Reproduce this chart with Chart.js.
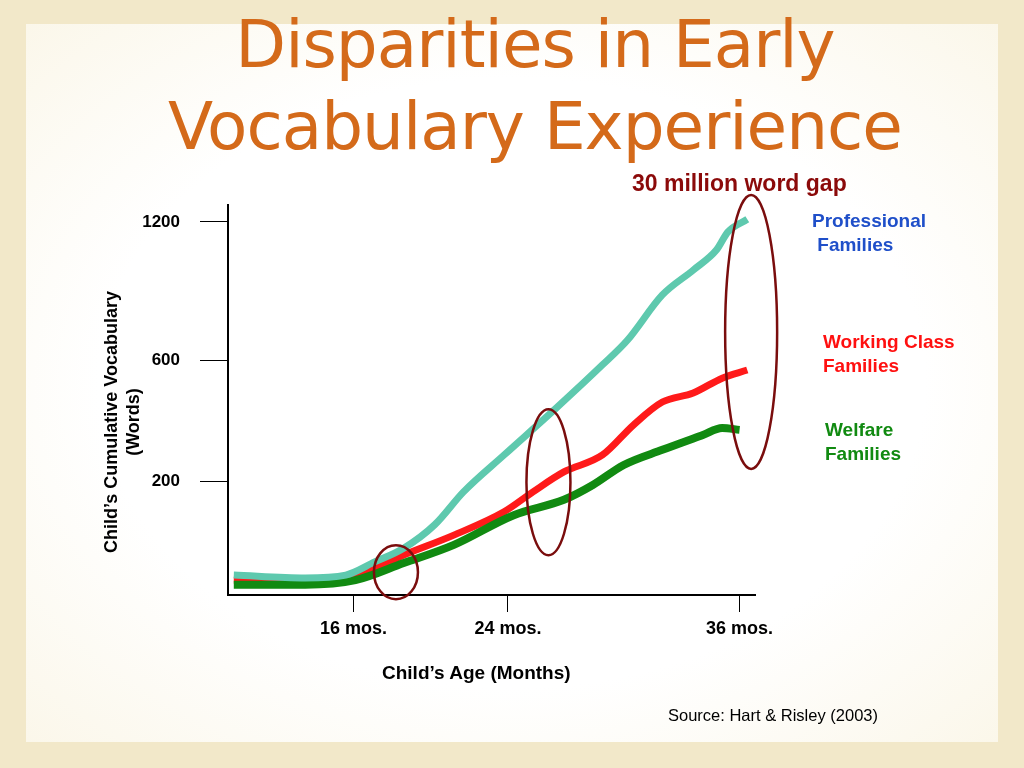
<!DOCTYPE html>
<html><head><meta charset="utf-8">
<script src="https://cdn.jsdelivr.net/npm/chart.js@4"></script>
<style>
body{margin:0;width:1024px;height:768px;background:#f2e8c9;position:relative;overflow:hidden;font-family:"Liberation Sans",Arial,sans-serif}
#panel{position:absolute;left:26px;top:24px;width:972px;height:718px;background:radial-gradient(ellipse at center,#ffffff 60%,#fbf7ea 100%)}
#c{position:absolute;left:0;top:0}
.t{position:absolute;white-space:nowrap}
h1{position:absolute;left:0;width:1070px;top:4px;margin:0;text-align:center;font-family:"DejaVu Sans",sans-serif;font-weight:normal;font-size:66px;line-height:82px;color:#d46a1a;letter-spacing:-1px}
</style></head><body>
<div id="panel"></div>
<h1>Disparities in Early<br>Vocabulary Experience</h1>
<canvas id="c" width="1024" height="768"></canvas>
<div class="t" style="left:632px;top:170px;font-size:23px;font-weight:bold;color:#8b0a0a">30 million word gap</div>
<div class="t" style="left:812px;top:209px;font-size:19px;font-weight:bold;color:#1f4fc9;line-height:24px">Professional<br>&nbsp;Families</div>
<div class="t" style="left:823px;top:330px;font-size:19px;font-weight:bold;color:#ff1010;line-height:24px">Working Class<br>Families</div>
<div class="t" style="left:825px;top:418px;font-size:19px;font-weight:bold;color:#118a11;line-height:24px">Welfare<br>Families</div>
<div class="t" style="left:122px;top:400px;width:320px;margin-left:-160px;text-align:center;transform:rotate(-90deg);font-size:18px;font-weight:bold;line-height:22px">Child’s Cumulative Vocabulary<br>(Words)</div>
<div class="t" style="left:382px;top:662px;font-size:19px;font-weight:bold">Child’s Age (Months)</div>
<div class="t" style="left:668px;top:706px;font-size:16.5px">Source: Hart &amp; Risley (2003)</div>
<script>
// vocabulary (words) by age (months)
const profMonths = [9.8,13.5,15.6,17.1,18.6,20.2,21.7,23.8,26.4,28.9,30.2,32.0,33.6,34.8,35.4,36.4];
const profWords  = [35,30,35,58,82,123,181,286,435,584,687,883,991,1078,1157,1209];
const workMonths = [9.8,13.5,16.1,18.6,21.2,23.8,25.3,26.9,28.9,30.5,32.0,33.6,35.1,36.4];
const workWords  = [26,26,33,70,105,146,181,230,286,385,461,491,540,567];
const welfMonths = [9.8,13.5,16.1,18.6,21.2,24.3,26.9,28.4,30.0,32.0,34.1,35.1,36.0];
const welfWords  = [18,18,26,56,88,140,167,193,253,303,352,375,369];
const xTicks = [16,24,36];
const xTickLabels = ['16 mos.','24 mos.','36 mos.'];
const yTicks = [200,600,1200];

// the slide's vertical axis is not linear: piecewise between its tick words
const knotWords = [0,200,600,1200,1400];
const knotPlot  = [0,114,235,373,433];
function toPlot(w){
  for(let i=1;i<knotWords.length;i++){
    if(w<=knotWords[i]){const f=(w-knotWords[i-1])/(knotWords[i]-knotWords[i-1]);return knotPlot[i-1]+f*(knotPlot[i]-knotPlot[i-1]);}
  }
  return knotPlot[knotPlot.length-1];
}
const pts=(xs,ys)=>xs.map((x,i)=>({x:x,y:toPlot(ys[i])}));

const ellipses = [ // centre month, centre words, pixel radii
  {m:18.2,w:40,rx:22,ry:27},
  {m:26.1,w:198,rx:22,ry:73},
  {m:36.6,w:722,rx:26,ry:137}
];
const ellipsePlugin={id:'ell',afterDatasetsDraw(ch){
  const c=ch.ctx,xs=ch.scales.x,ys=ch.scales.y;
  c.save();c.strokeStyle='#7a0d0d';c.lineWidth=2.5;
  ellipses.forEach(e=>{c.beginPath();c.ellipse(xs.getPixelForValue(e.m),ys.getPixelForValue(toPlot(e.w)),e.rx,e.ry,0,0,Math.PI*2);c.stroke();});
  c.restore();
}};

const ds=(data,color,w)=>({data:data,borderColor:color,borderWidth:w,pointRadius:0,fill:false,tension:0.4,cubicInterpolationMode:'monotone'});
new Chart(document.getElementById('c'),{
  type:'line',
  data:{datasets:[
    ds(pts(profMonths,profWords),'#5ec9ae',7),
    ds(pts(welfMonths,welfWords),'#118a11',8),
    ds(pts(workMonths,workWords),'#ff1a1a',7)
  ]},
  options:{
    responsive:false,animation:false,
    layout:{padding:{top:205,right:269,left:0,bottom:0}},
    plugins:{legend:{display:false},tooltip:{enabled:false}},
    scales:{
      x:{type:'linear',min:9.5,max:36.8,
        afterBuildTicks:s=>{s.ticks=xTicks.map(v=>({value:v}));},
        afterFit:s=>{s.height=173;},
        grid:{drawOnChartArea:false,tickLength:17,color:'#000',lineWidth:1},
        border:{color:'#000',width:2},
        ticks:{padding:6,color:'#000',font:{family:'Liberation Sans',size:18,weight:'bold'},
          callback:v=>xTickLabels[xTicks.indexOf(v)]}},
      y:{type:'linear',min:0,max:390,
        afterBuildTicks:s=>{s.ticks=yTicks.map(v=>({value:toPlot(v)}));},
        afterFit:s=>{s.width=228;},
        grid:{drawOnChartArea:false,tickLength:28,color:'#000',lineWidth:1},
        border:{color:'#000',width:2},
        ticks:{padding:20,color:'#000',font:{family:'Liberation Sans',size:17,weight:'bold'},
          callback:(v,i)=>String(yTicks[i])}}
    }
  },
  plugins:[ellipsePlugin]
});
</script>
</body></html>
